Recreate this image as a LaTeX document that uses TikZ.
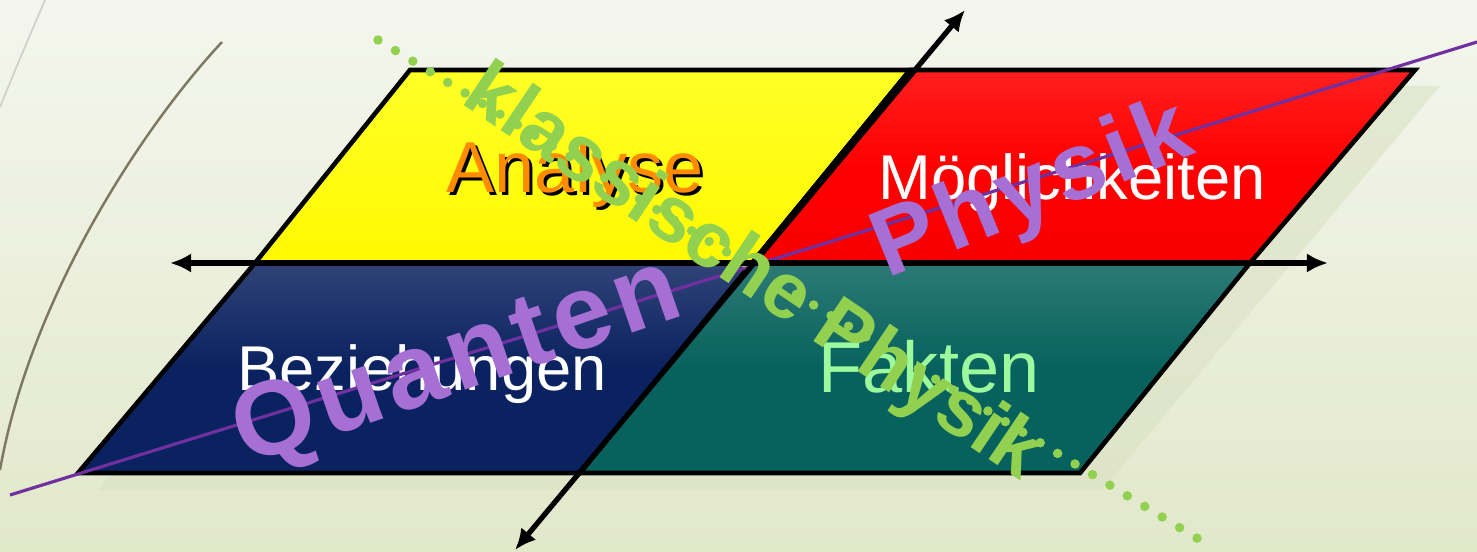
\documentclass[tikz,border=0pt]{standalone}
\usepackage{fontspec}
\setmainfont{Liberation Sans}
\usetikzlibrary{arrows.meta}

\definecolor{bgtop}{HTML}{F4F6EE}
\definecolor{bgbot}{HTML}{E2E8CA}
\definecolor{arcline}{HTML}{7D7862}
\definecolor{navytile}{HTML}{0B2260}
\definecolor{tealtile}{HTML}{07625D}
\definecolor{purpleline}{HTML}{7030A0}
\definecolor{purpleword}{HTML}{A66FD3}
\definecolor{greenword}{HTML}{92D050}
\definecolor{faktgreen}{HTML}{9CFA9C}
\definecolor{orangeword}{HTML}{FF8C00}

\begin{document}
\begin{tikzpicture}[
  x=0.01cm, y=-0.01cm,
  tile/.style={draw=black, line width=1.3pt, line join=miter},
  axis/.style={{Latex[length=6pt,width=5.5pt]}-{Latex[length=6pt,width=5.5pt]}, line width=1.7pt},
  lbl/.style={inner sep=0pt, anchor=base, font=\fontsize{18}{20}\selectfont},
  biglbl/.style={lbl, font=\fontsize{20.5}{22}\selectfont},
  word/.style={inner sep=0pt, font=\bfseries\fontsize{30}{32}\selectfont}
]
\fill[top color=bgtop, bottom color=bgbot] (0,0) rectangle (1477,552);
\useasboundingbox (0,0) rectangle (1477,552);

% curved strokes on the left
\draw[arcline, line width=0.7pt] (222,42) .. controls (140,130) and (30,300) .. (0,470);
\draw[black!15!bgtop, line width=0.5pt] (45,0) .. controls (30,35) and (15,70) .. (0,107);

% corners of the four tiles
\coordinate (tl) at (410,70);
\coordinate (tm) at (910,70);
\coordinate (tr) at (1415,70);
\coordinate (ml) at (255,263);
\coordinate (mc) at (752,263);
\coordinate (mr) at (1250,263);
\coordinate (bl) at (78,473);
\coordinate (bm) at (580,473);
\coordinate (br) at (1080,473);

% shadow
\fill[black!3!bgbot, opacity=0.6] (432,86) -- (1440,86) -- (1102,490) -- (98,490) -- cycle;

\path[tile, top color=yellow!85!white, bottom color=yellow!95!orange] (tl) -- (tm) -- (mc) -- (ml) -- cycle;
\path[tile, top color=red!88!white, bottom color=red!97!black, middle color=red] (tm) -- (tr) -- (mr) -- (mc) -- cycle;
\path[tile, top color=navytile!85!white, bottom color=navytile, middle color=navytile] (ml) -- (mc) -- (bm) -- (bl) -- cycle;
\path[tile, top color=tealtile!85!white, bottom color=tealtile, middle color=tealtile] (mc) -- (mr) -- (br) -- (bm) -- cycle;

\node[biglbl, text=black] at (578,196) {Analyse};
\node[biglbl, text=orangeword] (analyse) at (575,193) {Analyse};
\node[lbl, text=white] (moeglich) at (1072,200) {Möglichkeiten};
\node[lbl, text=white] (bezieh) at (422,390) {Beziehungen};
\node[biglbl, text=faktgreen] (fakten) at (929,392) {Fakten};

% lines through the tiles
\coordinate (q0) at (10,495);
\coordinate (q1) at (1477,42);
\coordinate (k0) at (378,40);
\coordinate (k1) at (1200,540);
\draw[purpleline, line width=0.9pt] (q0) -- (q1);
\draw[greenword, line width=2.7pt, line cap=round, dash pattern=on 0pt off 5.8pt] (k0) -- (k1);

% axes
\coordinate (west) at (170,263);
\coordinate (east) at (1328,263);
\coordinate (sw) at (515,550);
\coordinate (ne) at (965,10);
\draw[axis] (west) -- (east);
\draw[axis, line width=1.5pt] (sw) -- (ne);

\node[word, text=greenword, rotate=-34, font=\bfseries\fontsize{22.5}{24}\selectfont] (klass) at (752,275) {klassische Physik};
\node[word, text=purpleword, rotate=19] (quanten) at (458,365) {\addfontfeature{LetterSpace=6}Quanten};
\node[word, text=purpleword, rotate=22, font=\bfseries\fontsize{27}{29}\selectfont] (physik) at (1033,193) {\addfontfeature{LetterSpace=6}Physik};
\end{tikzpicture}
\end{document}
